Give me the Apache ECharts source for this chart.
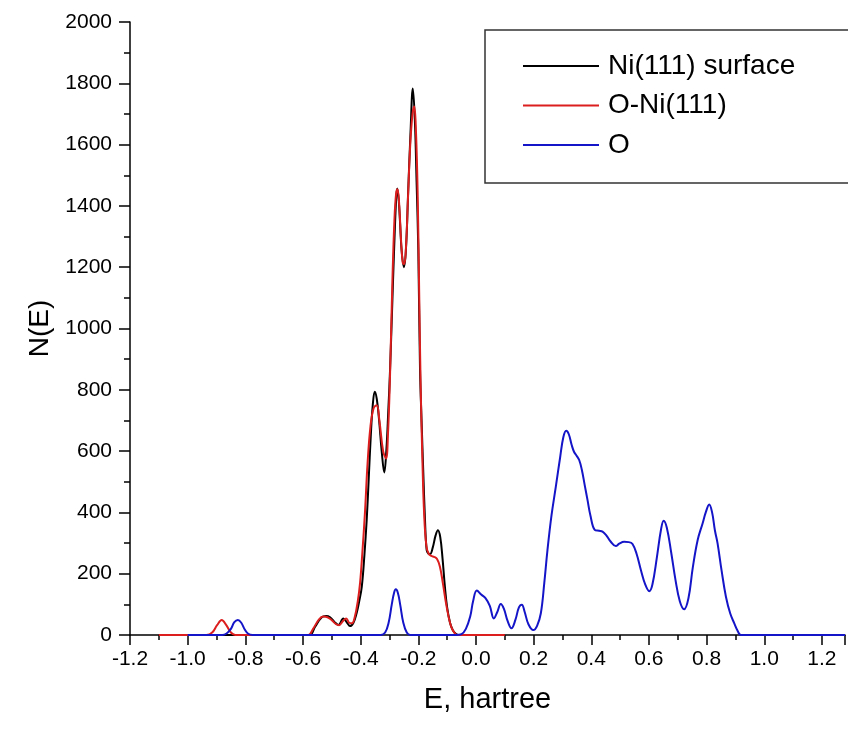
<!DOCTYPE html>
<html>
<head>
<meta charset="utf-8">
<script src="https://cdn.jsdelivr.net/npm/echarts@6/dist/echarts.min.js"></script>
<style>
  html, body { margin: 0; padding: 0; background: #fff; }
  #dos { width: 848px; height: 731px; }
</style>
</head>
<body>
<div id="dos"></div>
<script>
// density of states, [E (hartree), N(E)]
var niSurface = [
  [-1.1, 0], [-0.6, 0], [-0.576, 0], [-0.558, 27], [-0.535, 58], [-0.52, 62], [-0.506, 58],
  [-0.49, 42], [-0.477, 33], [-0.46, 54], [-0.447, 40], [-0.437, 29], [-0.425, 40], [-0.414, 71],
  [-0.405, 110], [-0.396, 158], [-0.387, 260], [-0.379, 375], [-0.372, 510], [-0.365, 647],
  [-0.358, 750], [-0.351, 794], [-0.344, 770], [-0.336, 701], [-0.327, 600], [-0.318, 530],
  [-0.311, 600], [-0.304, 734], [-0.298, 865], [-0.291, 1060], [-0.284, 1256], [-0.277, 1420],
  [-0.273, 1457], [-0.268, 1420], [-0.263, 1340], [-0.258, 1256], [-0.25, 1200], [-0.243, 1256],
  [-0.235, 1450], [-0.227, 1640], [-0.219, 1783], [-0.212, 1680], [-0.206, 1480], [-0.2, 1256],
  [-0.194, 865], [-0.188, 680], [-0.183, 538], [-0.177, 380], [-0.171, 277], [-0.165, 266],
  [-0.159, 264], [-0.15, 285], [-0.14, 325], [-0.132, 342], [-0.124, 320], [-0.116, 250],
  [-0.108, 160], [-0.1, 90], [-0.09, 40], [-0.08, 15], [-0.07, 4], [-0.06, 0], [0.1, 0]
];
var oNiSurface = [
  [-1.1, 0], [-0.935, 0], [-0.915, 8], [-0.898, 32], [-0.882, 49], [-0.866, 32], [-0.85, 8],
  [-0.835, 0], [-0.6, 0], [-0.581, 0], [-0.565, 20], [-0.545, 50], [-0.53, 60], [-0.515, 58],
  [-0.5, 48], [-0.485, 35], [-0.475, 32], [-0.462, 45], [-0.45, 54], [-0.44, 40], [-0.43, 38],
  [-0.42, 60], [-0.41, 110], [-0.402, 170], [-0.394, 270], [-0.385, 400], [-0.376, 560],
  [-0.366, 680], [-0.355, 740], [-0.344, 750], [-0.335, 700], [-0.322, 600], [-0.312, 576],
  [-0.305, 660], [-0.298, 850], [-0.29, 1150], [-0.283, 1350], [-0.277, 1440], [-0.272, 1454],
  [-0.266, 1400], [-0.26, 1290], [-0.254, 1215], [-0.249, 1210], [-0.243, 1260], [-0.236, 1420],
  [-0.228, 1600], [-0.22, 1700], [-0.214, 1724], [-0.208, 1640], [-0.202, 1430], [-0.197, 1120],
  [-0.192, 820], [-0.186, 580], [-0.18, 400], [-0.172, 290], [-0.164, 265], [-0.155, 258],
  [-0.145, 255], [-0.135, 248], [-0.125, 223], [-0.115, 170], [-0.105, 110], [-0.095, 60],
  [-0.085, 25], [-0.075, 8], [-0.065, 0], [0.1, 0]
];
var oxygen = [
  [-1.0, 0], [-0.88, 0], [-0.865, 5], [-0.85, 20], [-0.838, 42], [-0.826, 49], [-0.814, 40],
  [-0.802, 18], [-0.79, 4], [-0.775, 0], [-0.33, 0], [-0.315, 8], [-0.303, 40], [-0.292, 100],
  [-0.284, 138], [-0.278, 149], [-0.271, 138], [-0.263, 100], [-0.252, 40], [-0.24, 8],
  [-0.228, 0], [-0.07, 0], [-0.05, 3], [-0.035, 20], [-0.02, 60], [-0.01, 110], [0.003, 145],
  [0.018, 132], [0.033, 120], [0.048, 95], [0.062, 54], [0.074, 75], [0.086, 101], [0.097, 85],
  [0.11, 45], [0.123, 22], [0.137, 50], [0.149, 90], [0.159, 99], [0.169, 75], [0.182, 35],
  [0.199, 16], [0.212, 30], [0.225, 71], [0.237, 170], [0.248, 277], [0.262, 390], [0.277, 484],
  [0.292, 580], [0.303, 645], [0.313, 666], [0.322, 655], [0.332, 620], [0.34, 598], [0.349, 585],
  [0.358, 571], [0.367, 540], [0.377, 490], [0.387, 440], [0.397, 390], [0.412, 343], [0.427, 340],
  [0.439, 337], [0.452, 325], [0.467, 305], [0.485, 290], [0.497, 298], [0.514, 304], [0.53, 303],
  [0.543, 297], [0.557, 265], [0.572, 212], [0.587, 165], [0.601, 143], [0.612, 165], [0.627, 250],
  [0.642, 345], [0.651, 373], [0.662, 350], [0.677, 270], [0.692, 180], [0.707, 110], [0.722, 84],
  [0.737, 120], [0.752, 220], [0.769, 310], [0.786, 364], [0.797, 400], [0.809, 426], [0.819, 400],
  [0.829, 340], [0.838, 299], [0.852, 210], [0.867, 125], [0.882, 70], [0.896, 38], [0.907, 15],
  [0.919, 0], [1.28, 0]
];
var seriesNames = ['Ni(111) surface', 'O-Ni(111)', 'O'];
var seriesColors = ['#000000', '#dc1e1e', '#1414c8'];

var chart = echarts.init(document.getElementById('dos'));
var font = 'Liberation Sans, Arial, sans-serif';

function line(i, data) {
  return {
    name: seriesNames[i],
    type: 'line',
    data: data,
    symbol: 'none',
    smooth: 0.4,
    color: seriesColors[i],
    lineStyle: { width: 2, color: seriesColors[i] },
    z: 2 + i
  };
}

var option = {
  backgroundColor: '#fff',
  animation: false,
  grid: { left: 130, right: 3, top: 22, bottom: 96 },
  legend: {
    orient: 'vertical',
    left: 485,
    top: 30,
    padding: [22, 120, 24, 37],
    borderColor: '#333',
    borderWidth: 1.5,
    borderRadius: 0,
    itemWidth: 76,
    itemHeight: 28,
    itemGap: 11.5,
    itemStyle: { opacity: 0 },
    lineStyle: { width: 2 },
    textStyle: { fontFamily: font, fontSize: 28, color: '#000', padding: [0, 0, 0, 4] },
    data: seriesNames
  },
  xAxis: {
    type: 'value',
    min: -1.2,
    max: 1.28,
    interval: 0.2,
    name: 'E, hartree',
    nameLocation: 'middle',
    nameGap: 50,
    nameTextStyle: { fontFamily: font, fontSize: 29, color: '#000' },
    splitLine: { show: false },
    axisLine: { onZero: false, lineStyle: { color: '#000', width: 1.5 } },
    axisTick: { inside: false, length: 10, lineStyle: { color: '#000', width: 1.5 } },
    minorTick: { show: true, splitNumber: 2, length: 5, lineStyle: { color: '#000', width: 1.5 } },
    axisLabel: {
      showMaxLabel: false,
      margin: 14,
      fontFamily: font,
      fontSize: 21,
      color: '#000',
      formatter: function (v) { return v.toFixed(1); }
    }
  },
  yAxis: {
    type: 'value',
    min: 0,
    max: 2000,
    interval: 200,
    name: 'N(E)',
    nameLocation: 'middle',
    nameGap: 74,
    nameTextStyle: { fontFamily: font, fontSize: 28, color: '#000' },
    splitLine: { show: false },
    axisLine: { show: true, onZero: false, lineStyle: { color: '#000', width: 1.5 } },
    axisTick: { show: true, inside: false, length: 11, lineStyle: { color: '#000', width: 1.5 } },
    minorTick: { show: true, splitNumber: 2, length: 6, lineStyle: { color: '#000', width: 1.5 } },
    axisLabel: {
      margin: 18,
      fontFamily: font,
      fontSize: 21,
      color: '#000',
      formatter: function (v) { return String(v); }
    }
  },
  series: [line(0, niSurface), line(1, oNiSurface), line(2, oxygen)]
};
chart.setOption(option);
</script>
</body>
</html>
